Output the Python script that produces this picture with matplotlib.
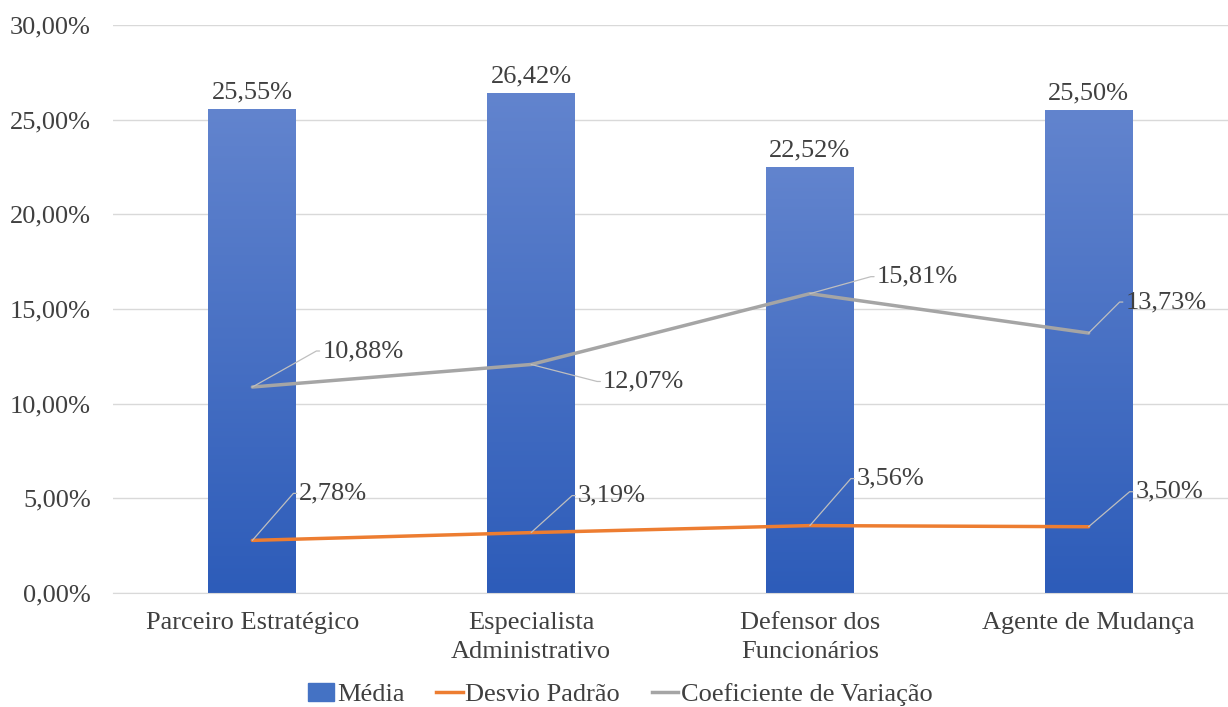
import numpy as np
import matplotlib.pyplot as plt
import matplotlib.colors as mcolors
from matplotlib.lines import Line2D
from matplotlib.patches import Patch
import math

plt.rcParams['font.family'] = ['Liberation Serif', 'DejaVu Serif']

categorias = ['Parceiro Estratégico', 'Especialista\nAdministrativo',
              'Defensor dos\nFuncionários', 'Agente de Mudança']
media = [25.55, 26.42, 22.52, 25.50]
desvio = [2.78, 3.19, 3.56, 3.50]
coef_var = [10.88, 12.07, 15.81, 13.73]

# label offsets in pixels (text left edge / vertical centre, relative to point)
off_dp = [(47, 47), (47, 37), (47, 47), (47, 35)]
off_cv = [(70, 36), (72, -17), (67, 17), (37, 31)]

def fmt(v):
    return f'{v:.2f}'.replace('.', ',') + '%'

txt = '#404040'
fs = 19
fig = plt.figure(figsize=(12.28, 7.07), dpi=100)
ax = fig.add_axes([113 / 1228, 114 / 707, 1115 / 1228, 568 / 707])

x = np.arange(len(categorias))
w = 0.315
cmap = mcolors.LinearSegmentedColormap.from_list('g', ['#2D5CB9', '#6284CE'])
bars = ax.bar(x, media, width=w, color='none', zorder=2)
for b in bars:
    x0, y0 = b.get_x(), b.get_y()
    im = ax.imshow(np.linspace(0, 1, 256).reshape(-1, 1), cmap=cmap, origin='lower',
                   extent=[x0, x0 + b.get_width(), y0, y0 + b.get_height()],
                   aspect='auto', zorder=2)
    im.set_clip_path(b)

for xi, v in zip(x, media):
    ax.annotate(fmt(v), (xi, v), xytext=(0, 4), textcoords='offset points',
                ha='center', va='bottom', fontsize=fs, color=txt)

ax.plot(x, desvio, color='#ED7D31', lw=2.5, zorder=3, solid_capstyle='round')
ax.plot(x, coef_var, color='#A5A5A5', lw=2.5, zorder=3, solid_capstyle='round')

def labels(vals, offs):
    for xi, v, (dx, dy) in zip(x, vals, offs):
        ang = math.degrees(math.atan2(dy, dx - 6))
        ax.annotate(fmt(v), (xi, v), xytext=(dx, dy), textcoords='offset pixels',
                    ha='left', va='center', fontsize=fs, color=txt, zorder=4,
                    arrowprops=dict(arrowstyle='-', color='#BFBFBF', lw=0.9,
                                    shrinkA=0, shrinkB=0, relpos=(0, 0.5),
                                    connectionstyle=f'angle,angleA=0,angleB={ang},rad=0'))

labels(desvio, off_dp)
labels(coef_var, off_cv)

ax.set_xlim(-0.5, 3.5)
ax.set_ylim(0, 30)
ax.set_yticks(np.arange(0, 31, 5))
ax.set_yticklabels([fmt(t) for t in np.arange(0, 31, 5)])
ax.set_xticks(x)
ax.set_xticklabels(categorias, linespacing=1.4)
ax.tick_params(axis='both', length=0, labelsize=fs, colors=txt)
ax.tick_params(axis='x', pad=14)
ax.tick_params(axis='y', pad=16)
ax.grid(axis='y', color='#D9D9D9', lw=1, zorder=0)
ax.set_axisbelow(True)
for s in ['top', 'right', 'left']:
    ax.spines[s].set_visible(False)
ax.spines['bottom'].set_color('#D9D9D9')

handles = [Patch(color='#4472C4', label='Média'),
           Line2D([], [], color='#ED7D31', lw=2.5, label='Desvio Padrão'),
           Line2D([], [], color='#A5A5A5', lw=2.5, label='Coeficiente de Variação')]
fig.legend(handles=handles, loc='center', bbox_to_anchor=(0.505, 0.018), ncol=3,
           frameon=False, fontsize=fs, labelcolor=txt, handlelength=1.0,
           handletextpad=0.1, columnspacing=1.2)

fig.savefig('out.png', dpi=100)
